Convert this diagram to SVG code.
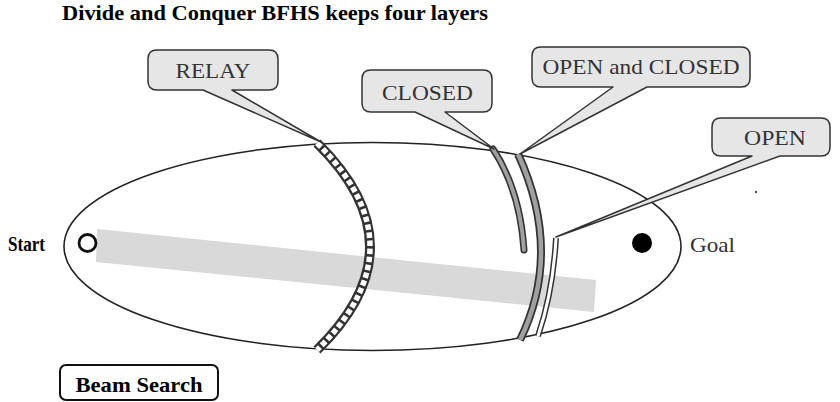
<svg xmlns="http://www.w3.org/2000/svg" width="840" height="402" viewBox="0 0 840 402">
<style>
text{font-family:"Liberation Serif","Times New Roman",serif;}
.t{font-size:21px;font-weight:bold;fill:#000;}
.lbl{font-size:21px;fill:#333;text-anchor:middle;}
.call{fill:#e6e6e6;stroke:#333;stroke-width:1.5;stroke-linejoin:round;}
</style>
<rect width="840" height="402" fill="#fff"/>
<text class="t" x="62" y="20" textLength="426" lengthAdjust="spacingAndGlyphs">Divide and Conquer BFHS keeps four layers</text>
<g id="search-space">
<polygon points="97,229 596,280 594,312 96,262" fill="#d9d9d9"/>
<ellipse cx="372.5" cy="246.5" rx="308.5" ry="104" fill="none" stroke="#222" stroke-width="1.6"/>
</g>
<g id="start">
<circle cx="87.5" cy="243" r="8.5" fill="#fff" stroke="#111" stroke-width="2.8"/>
<text class="t" x="8" y="251" textLength="37" lengthAdjust="spacingAndGlyphs">Start</text>
</g>
<g id="goal">
<circle cx="642" cy="243" r="10" fill="#000"/>
<text x="690" y="252" font-size="21" fill="#333" textLength="45" lengthAdjust="spacingAndGlyphs">Goal</text>
</g>
<g id="relay-layer">
<path d="M317,143 Q423,247 317,350" fill="none" stroke="#333" stroke-width="10"/>
<path d="M317,143 Q423,247 317,350" fill="none" stroke="#fff" stroke-width="5.5" stroke-dasharray="5.5 2.6"/>
</g>
<g id="closed-layer">
<path d="M493,149 Q520,190 524,250" fill="none" stroke="#333" stroke-width="7" stroke-linecap="round"/>
<path d="M493,149 Q520,190 524,250" fill="none" stroke="#a0a0a0" stroke-width="3.8" stroke-linecap="round"/>
</g>
<g id="open-closed-layer">
<path d="M518,154 Q563,252 520,340" fill="none" stroke="#333" stroke-width="8"/>
<path d="M518,154 Q563,252 520,340" fill="none" stroke="#a0a0a0" stroke-width="4.5"/>
</g>
<g id="open-layer">
<path d="M556,238 Q553,292 538,336" fill="none" stroke="#333" stroke-width="6"/>
<path d="M556,238 Q553,292 538,336" fill="none" stroke="#fff" stroke-width="3"/>
</g>
<g id="connectors">
<circle cx="756" cy="192" r="1.2" fill="#555"/>
</g>
<g id="relay-callout">
<path class="call" d="M157,50 H269 Q278,50 278,59 V81 Q278,90 269,90 H232 L321,142 L203,90 H157 Q148,90 148,81 V59 Q148,50 157,50 Z"/>
<text class="lbl" x="213" y="78" textLength="75" lengthAdjust="spacingAndGlyphs">RELAY</text>
</g>
<g id="closed-callout">
<path class="call" d="M371,70 H483 Q492,70 492,79 V103 Q492,112 483,112 H445 L494,149 L415,112 H371 Q362,112 362,103 V79 Q362,70 371,70 Z"/>
<text class="lbl" x="427.5" y="100" textLength="91" lengthAdjust="spacingAndGlyphs">CLOSED</text>
</g>
<g id="open-closed-callout">
<path class="call" d="M541,47 H741 Q750,47 750,56 V78 Q750,87 741,87 H647 L520,154 L613,87 H541 Q532,87 532,78 V56 Q532,47 541,47 Z"/>
<text class="lbl" x="641" y="74" textLength="197" lengthAdjust="spacingAndGlyphs">OPEN and CLOSED</text>
</g>
<g id="open-callout">
<path class="call" d="M721,118 H821 Q830,118 830,127 V147 Q830,156 821,156 H780 L556,237 L752,156 H721 Q712,156 712,147 V127 Q712,118 721,118 Z"/>
<text class="lbl" x="775" y="145" textLength="62" lengthAdjust="spacingAndGlyphs">OPEN</text>
</g>
<g id="beam-search">
<rect x="60" y="365" width="158" height="35" rx="6" fill="#fff" stroke="#111" stroke-width="2"/>
<text class="t" x="139" y="392" text-anchor="middle" textLength="127" lengthAdjust="spacingAndGlyphs">Beam Search</text>
</g>
</svg>
